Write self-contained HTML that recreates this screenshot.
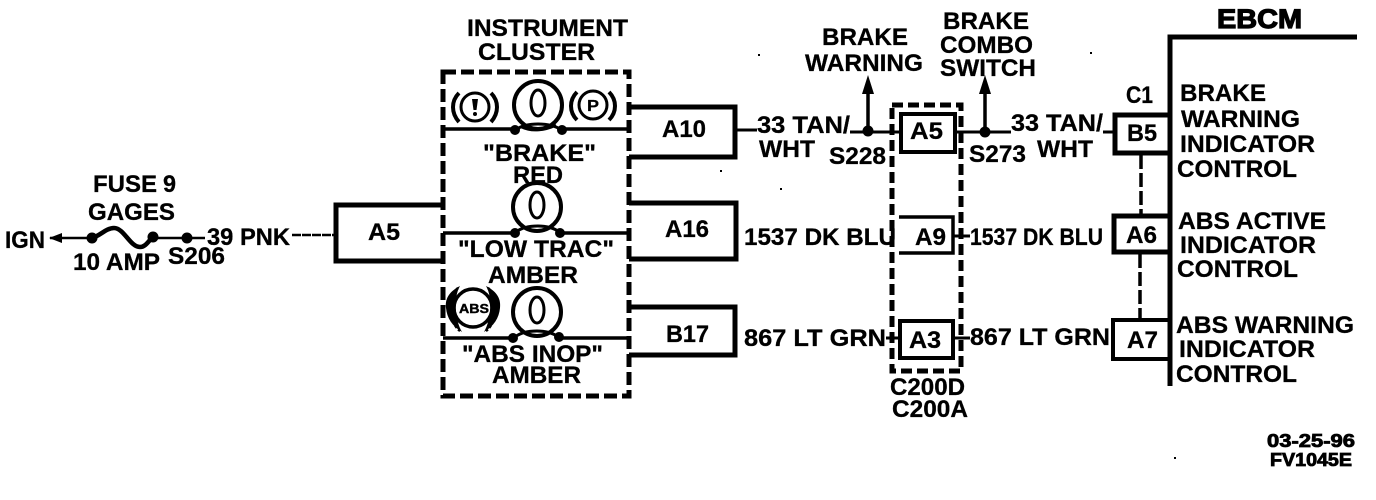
<!DOCTYPE html>
<html>
<head>
<meta charset="utf-8">
<style>
html,body{margin:0;padding:0;background:#fff;width:1376px;height:500px;overflow:hidden}
svg{display:block}
text{font-family:"Liberation Sans",sans-serif;font-weight:bold;font-size:24px;fill:#000;stroke:#000;stroke-width:.3}
.s{font-size:18px;stroke-width:.8}
.e{font-size:27px;stroke-width:1.2}
.l{fill:none;stroke:#000}
</style>
</head>
<body>
<svg width="1376" height="500" viewBox="0 0 1376 500" xmlns="http://www.w3.org/2000/svg">
<rect width="1376" height="500" fill="#fff"/>

<!-- Left side wiring -->
<path class="l" stroke-width="2.5" d="M50 238H92M153 238H205"/>
<path class="l" stroke-width="2.5" stroke-dasharray="9 1" d="M292 235H335"/>
<path d="M49 238L62 233V243Z" fill="#000"/>
<path class="l" stroke-width="4.5" d="M92 238C100 236 106 228 114 228C124 228 130 247 140 247C146 247 149 240 153 237"/>
<circle cx="92" cy="238" r="5.5"/><circle cx="153" cy="237" r="5.5"/><circle cx="187" cy="238" r="5.5"/>

<!-- Connector boxes, left -->
<path class="l" stroke-width="5" d="M443 205H336V261H443"/>
<path class="l" stroke-width="5" d="M629 107H735V157H629"/>
<path class="l" stroke-width="5" d="M629 203H736V259H629"/>
<path class="l" stroke-width="5" d="M629 307H735V355H629"/>
<path class="l" stroke-width="3" d="M736 130H757"/>

<!-- Instrument cluster dashed box -->
<rect class="l" x="443" y="72" width="186" height="324" stroke-width="5" stroke-dasharray="13 5"/>

<!-- Cluster internal lines -->
<path class="l" stroke-width="3.5" d="M443 129H515M562 129H629M443 233H515M560 233H629M443 338H513M559 338H629"/>

<!-- Lamp 1 -->
<circle class="l" cx="538" cy="105" r="24" stroke-width="4"/>
<ellipse class="l" cx="538" cy="103" rx="7" ry="13" stroke-width="3"/>
<path class="l" stroke-width="3" d="M516 130C524 122 552 122 561 130M522 127C532 132 546 130 556 125"/>
<circle cx="515" cy="130" r="5"/><circle cx="562" cy="130" r="5"/>
<!-- Lamp 2 -->
<circle class="l" cx="537" cy="207" r="24" stroke-width="4"/>
<ellipse class="l" cx="537" cy="205" rx="7" ry="13" stroke-width="3"/>
<path class="l" stroke-width="3" d="M516 232C526 224 550 224 559 232"/>
<circle cx="515" cy="233" r="5"/><circle cx="560" cy="233" r="5"/>
<!-- Lamp 3 -->
<circle class="l" cx="537" cy="312" r="24" stroke-width="4"/>
<ellipse class="l" cx="537" cy="310" rx="7" ry="13" stroke-width="3"/>
<path class="l" stroke-width="3" d="M515 337C525 329 549 329 558 337"/>
<circle cx="513" cy="338" r="5"/><circle cx="559" cy="337" r="5"/>

<!-- (!) icon -->
<circle class="l" cx="475" cy="107" r="14" stroke-width="3"/>
<path class="l" stroke-width="4" d="M459 93C451 101 451 113 459 122M491 93C499 101 499 113 491 122"/>
<path d="M472 99H478L476.5 110H473.5Z" fill="#000"/><circle cx="475" cy="114" r="2"/>
<!-- (P) icon -->
<circle class="l" cx="593" cy="105" r="14" stroke-width="3"/>
<path class="l" stroke-width="4" d="M577 92C569 100 569 112 577 120M609 92C617 100 617 112 609 120"/>
<text x="587" y="111" style="font-size:16px" textLength="12" lengthAdjust="spacingAndGlyphs">P</text>

<!-- ABS icon -->
<path d="M460 286C448 292 445 300 446 308C447 318 452 326 462 332C455 320 453 298 460 286Z" fill="#000"/>
<path d="M486 286C498 292 501 300 500 308C499 318 494 326 484 332C491 320 493 298 486 286Z" fill="#000"/>
<path class="l" stroke-width="2.5" stroke-dasharray="3 2" d="M458 288C448 296 448 322 460 331M488 288C498 296 498 322 486 331"/>
<circle class="l" cx="473" cy="308" r="19" stroke-width="3.5"/>
<text x="459" y="313" style="font-size:13px;stroke-width:.4" textLength="30" lengthAdjust="spacingAndGlyphs">ABS</text>

<!-- C200 dashed box and boxes -->
<rect class="l" x="892" y="105" width="69" height="266" stroke-width="5" stroke-dasharray="11 5"/>
<rect class="l" x="901" y="114" width="54" height="38" stroke-width="4"/>
<path class="l" stroke-width="3.5" d="M899 217H953V253H899"/>
<rect class="l" x="900" y="321" width="53" height="37" stroke-width="4"/>

<!-- Wires and splices -->
<path class="l" stroke-width="3" d="M850 132H900M955 132H1011M1103 132H1113M953 236H970M886 338H900M953 338H970"/>
<path class="l" stroke-width="3.5" d="M868 131V90M985 132V90"/>
<path d="M868 75L874 94H862Z M985 75L991 94H979Z" fill="#000"/>
<circle cx="868" cy="131" r="5.5"/><circle cx="985" cy="132" r="5.5"/>

<!-- EBCM -->
<path class="l" stroke-width="5" d="M1357 37H1170V386"/>
<path class="l" stroke-width="5" d="M1170 115H1115V153H1170"/>
<path class="l" stroke-width="5" d="M1170 216H1114V252H1170"/>
<path class="l" stroke-width="4" d="M1170 320H1113V359H1170"/>
<path class="l" stroke-width="3.5" stroke-dasharray="14 4" d="M1141 155V214M1140 254V318"/>

<!-- Specks -->
<g fill="#000"><rect x="758" y="54" width="2" height="2"/><rect x="780" y="188" width="2" height="2"/><rect x="1090" y="52" width="2" height="2"/><rect x="1174" y="457" width="2" height="2"/><rect x="720" y="170" width="2" height="2"/></g>

<!-- Text -->
<text x="467" y="36" textLength="161" lengthAdjust="spacingAndGlyphs">INSTRUMENT</text>
<text x="478" y="60" textLength="117" lengthAdjust="spacingAndGlyphs">CLUSTER</text>
<text x="822" y="45" textLength="86" lengthAdjust="spacingAndGlyphs">BRAKE</text>
<text x="805" y="71" textLength="118" lengthAdjust="spacingAndGlyphs">WARNING</text>
<text x="943" y="29" textLength="86" lengthAdjust="spacingAndGlyphs">BRAKE</text>
<text x="940" y="53" textLength="93" lengthAdjust="spacingAndGlyphs">COMBO</text>
<text x="940" y="76" textLength="96" lengthAdjust="spacingAndGlyphs">SWITCH</text>
<text x="757" y="133" textLength="93" lengthAdjust="spacingAndGlyphs">33 TAN/</text>
<text x="759" y="157" textLength="56" lengthAdjust="spacingAndGlyphs">WHT</text>
<text x="829" y="164" textLength="57" lengthAdjust="spacingAndGlyphs">S228</text>
<text x="910" y="139" textLength="33" lengthAdjust="spacingAndGlyphs">A5</text>
<text x="969" y="162" textLength="57" lengthAdjust="spacingAndGlyphs">S273</text>
<text x="1011" y="131" textLength="92" lengthAdjust="spacingAndGlyphs">33 TAN/</text>
<text x="1037" y="157" textLength="56" lengthAdjust="spacingAndGlyphs">WHT</text>
<text x="1126" y="103" textLength="27" lengthAdjust="spacingAndGlyphs">C1</text>
<text x="1127" y="141" textLength="30" lengthAdjust="spacingAndGlyphs">B5</text>
<text class="e" x="1217" y="28" textLength="85" lengthAdjust="spacingAndGlyphs">EBCM</text>
<text x="1180" y="101" textLength="86" lengthAdjust="spacingAndGlyphs">BRAKE</text>
<text x="1181" y="127" textLength="119" lengthAdjust="spacingAndGlyphs">WARNING</text>
<text x="1180" y="152" textLength="135" lengthAdjust="spacingAndGlyphs">INDICATOR</text>
<text x="1177" y="177" textLength="120" lengthAdjust="spacingAndGlyphs">CONTROL</text>
<text x="1178" y="229" textLength="148" lengthAdjust="spacingAndGlyphs">ABS ACTIVE</text>
<text x="1180" y="253" textLength="136" lengthAdjust="spacingAndGlyphs">INDICATOR</text>
<text x="1177" y="277" textLength="121" lengthAdjust="spacingAndGlyphs">CONTROL</text>
<text x="1176" y="333" textLength="178" lengthAdjust="spacingAndGlyphs">ABS WARNING</text>
<text x="1179" y="357" textLength="136" lengthAdjust="spacingAndGlyphs">INDICATOR</text>
<text x="1176" y="382" textLength="121" lengthAdjust="spacingAndGlyphs">CONTROL</text>
<text class="s" x="1267" y="447" textLength="88" lengthAdjust="spacingAndGlyphs">03-25-96</text>
<text class="s" x="1270" y="466" textLength="82" lengthAdjust="spacingAndGlyphs">FV1045E</text>
<text x="970" y="245" textLength="133" lengthAdjust="spacingAndGlyphs">1537 DK BLU</text>
<text x="970" y="345" textLength="140" lengthAdjust="spacingAndGlyphs">867 LT GRN</text>
<text x="744" y="245" textLength="152" lengthAdjust="spacingAndGlyphs">1537 DK BLU</text>
<text x="744" y="346" textLength="142" lengthAdjust="spacingAndGlyphs">867 LT GRN</text>
<text x="915" y="245" textLength="31" lengthAdjust="spacingAndGlyphs">A9</text>
<text x="909" y="348" textLength="32" lengthAdjust="spacingAndGlyphs">A3</text>
<text x="1126" y="243" textLength="31" lengthAdjust="spacingAndGlyphs">A6</text>
<text x="1127" y="348" textLength="31" lengthAdjust="spacingAndGlyphs">A7</text>
<text x="890" y="395" textLength="75" lengthAdjust="spacingAndGlyphs">C200D</text>
<text x="892" y="417" textLength="76" lengthAdjust="spacingAndGlyphs">C200A</text>
<text x="93" y="192" textLength="64" lengthAdjust="spacingAndGlyphs">FUSE</text>
<text x="163" y="192" textLength="13" lengthAdjust="spacingAndGlyphs">9</text>
<text x="88" y="220" textLength="87" lengthAdjust="spacingAndGlyphs">GAGES</text>
<text x="5" y="248" textLength="40" lengthAdjust="spacingAndGlyphs">IGN</text>
<text x="73" y="270" textLength="87" lengthAdjust="spacingAndGlyphs">10 AMP</text>
<text x="168" y="264" textLength="57" lengthAdjust="spacingAndGlyphs">S206</text>
<text x="207" y="245" textLength="83" lengthAdjust="spacingAndGlyphs">39 PNK</text>
<text x="368" y="240" textLength="32" lengthAdjust="spacingAndGlyphs">A5</text>
<text x="662" y="137" textLength="44" lengthAdjust="spacingAndGlyphs">A10</text>
<text x="483" y="161" textLength="113" lengthAdjust="spacingAndGlyphs">"BRAKE"</text>
<text x="513" y="183" textLength="50" lengthAdjust="spacingAndGlyphs">RED</text>
<text x="665" y="237" textLength="44" lengthAdjust="spacingAndGlyphs">A16</text>
<text x="458" y="257" textLength="156" lengthAdjust="spacingAndGlyphs">"LOW TRAC"</text>
<text x="488" y="283" textLength="90" lengthAdjust="spacingAndGlyphs">AMBER</text>
<text x="666" y="342" textLength="43" lengthAdjust="spacingAndGlyphs">B17</text>
<text x="462" y="362" textLength="141" lengthAdjust="spacingAndGlyphs">"ABS INOP"</text>
<text x="492" y="383" textLength="89" lengthAdjust="spacingAndGlyphs">AMBER</text>
</svg>
</body>
</html>
